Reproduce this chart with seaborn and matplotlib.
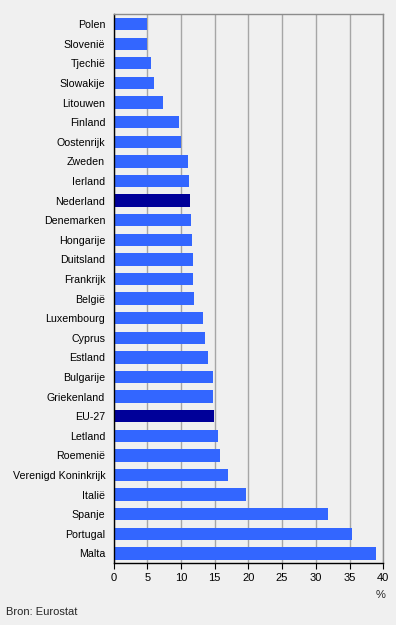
import matplotlib
matplotlib.use("Agg")
import matplotlib.pyplot as plt
import seaborn as sns
import pandas as pd

# data
landen = ['Polen', 'Slovenië', 'Tjechië', 'Slowakije', 'Litouwen', 'Finland',
          'Oostenrijk', 'Zweden', 'Ierland', 'Nederland', 'Denemarken',
          'Hongarije', 'Duitsland', 'Frankrijk', 'België', 'Luxembourg',
          'Cyprus', 'Estland', 'Bulgarije', 'Griekenland', 'EU-27', 'Letland',
          'Roemenië', 'Verenigd Koninkrijk', 'Italië', 'Spanje', 'Portugal',
          'Malta']
waarden = [5.0, 5.0, 5.5, 6.0, 7.3, 9.7, 10.0, 11.0, 11.2, 11.3, 11.5, 11.6,
           11.8, 11.8, 11.9, 13.3, 13.6, 14.0, 14.7, 14.7, 14.9, 15.5, 15.8,
           17.0, 19.6, 31.8, 35.4, 38.9]
uitgelicht = ['Nederland', 'EU-27']
x_ticks = [0, 5, 10, 15, 20, 25, 30, 35, 40]

df = pd.DataFrame({'land': landen, 'waarde': waarden})
df['groep'] = ['accent' if l in uitgelicht else 'normaal' for l in landen]

bg = '#F0F0F0'
sns.set_theme(style='white')
plt.rcParams['font.family'] = ['Liberation Sans', 'DejaVu Sans']

fig = plt.figure(figsize=(3.96, 6.25), dpi=100, facecolor=bg)
ax = fig.add_axes([113.5 / 396, 1 - 563.3 / 625, 269.8 / 396, 549 / 625])
ax.set_facecolor(bg)

sns.barplot(data=df, x='waarde', y='land', hue='groep',
            palette={'normaal': '#3366FF', 'accent': '#000099'},
            order=landen, width=0.63, dodge=False, legend=False,
            saturation=1, linewidth=0, edgecolor='none', ax=ax)

ax.set_xlim(0, 40)
ax.set_xticks(x_ticks)
ax.set_xticklabels([str(t) for t in x_ticks], fontsize=8, color='black')
ax.tick_params(axis='y', length=0, pad=6, labelsize=7.7, labelcolor='black')
ax.tick_params(axis='x', length=4, width=0.8, color='black', pad=3, bottom=True)
ax.set_xlabel('')
ax.set_ylabel('')

ax.grid(axis='x', color='#A6A6A6', linewidth=1)
ax.set_axisbelow(True)
for s in ['top', 'right']:
    ax.spines[s].set_color('#8C8C8C')
    ax.spines[s].set_linewidth(1)
for s in ['left', 'bottom']:
    ax.spines[s].set_color('black')
    ax.spines[s].set_linewidth(1)

fig.text(385 / 396, 1 - 595 / 625, '%', ha='right', va='center', fontsize=8)
fig.text(6 / 396, 1 - 612 / 625, 'Bron: Eurostat', ha='left', va='center', fontsize=8)

fig.savefig('out.png', dpi=100, facecolor=bg)
